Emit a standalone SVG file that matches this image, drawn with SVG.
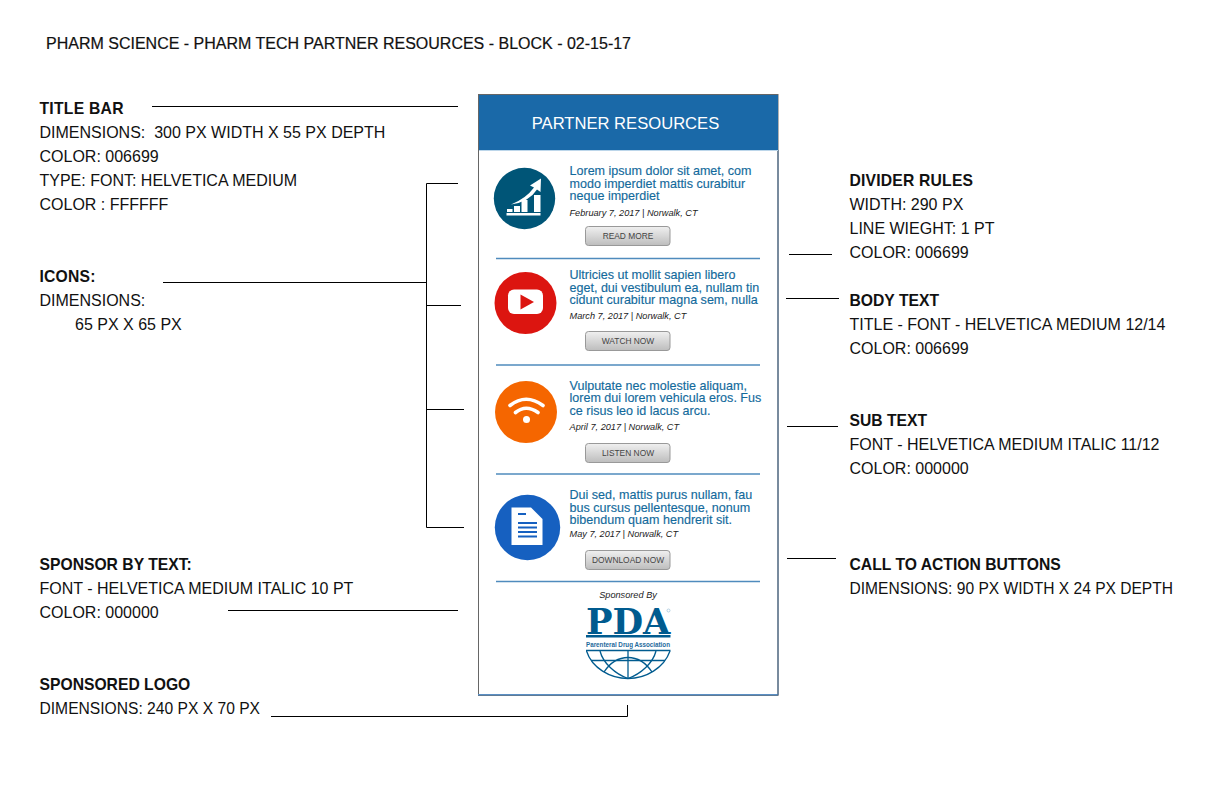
<svg xmlns="http://www.w3.org/2000/svg" width="1224" height="792" viewBox="0 0 1224 792">
<style>
text{font-family:"Liberation Sans",Arial,sans-serif;white-space:pre}
.l{font-size:16px;fill:#111}
.b{font-weight:bold;font-size:15.7px}
.t{font-size:12.55px;fill:#136a9c;stroke:#136a9c;stroke-width:0.15px}
.d{font-size:9.2px;font-style:italic;fill:#222}
.c{font-size:8.4px;fill:#444;text-anchor:middle}
.r{fill:none;stroke:#4f8bbd;stroke-width:1.5}
.btn{fill:url(#g);stroke:#999;stroke-width:1}
.con{fill:none;stroke:#000;stroke-width:1}
</style>
<defs><linearGradient id="g" x1="0" y1="0" x2="0" y2="1"><stop offset="0" stop-color="#f0f0f0"/><stop offset="1" stop-color="#bdbdbd"/></linearGradient></defs>
<rect width="1224" height="792" fill="#fff"/>
<text id="heading" x="46" y="48.500" style="font-size:16px;fill:#111;stroke:#111;stroke-width:0.2px">PHARM SCIENCE - PHARM TECH PARTNER RESOURCES - BLOCK - 02-15-17</text>
<g id="connectors" class="con">
<path d="M152 106.500H458"/>
<path d="M163 282.500H426"/>
<path d="M458 183.500H426.500V527.500H464"/>
<path d="M426 305.500H461"/>
<path d="M426 409.500H464"/>
<path d="M228 610.500H458"/>
<path d="M271 716.500H627.500V705"/>
<path d="M789 254.500H832"/>
<path d="M786 298.500H839"/>
<path d="M787 426.500H838"/>
<path d="M787 558.500H836"/>
</g>
<g id="note-title-bar"><text class="l b" x="39.500" y="113.500" textLength="84">TITLE BAR</text><text class="l" x="39.500" y="137.500">DIMENSIONS:  300 PX WIDTH X 55 PX DEPTH</text><text class="l" x="39.500" y="161.500">COLOR: 006699</text><text class="l" x="39.500" y="185.500">TYPE: FONT: HELVETICA MEDIUM</text><text class="l" x="39.500" y="209.500">COLOR : FFFFFF</text></g>
<g id="note-icons"><text class="l b" x="39.500" y="281.500" textLength="56">ICONS:</text><text class="l" x="39.500" y="305.500">DIMENSIONS:</text><text class="l" x="75" y="329.500">65 PX X 65 PX</text></g>
<g id="note-sponsor"><text class="l b" x="39.500" y="569.500">SPONSOR BY TEXT:</text><text class="l" x="39.500" y="593.500">FONT - HELVETICA MEDIUM ITALIC 10 PT</text><text class="l" x="39.500" y="617.500">COLOR: 000000</text></g>
<g id="note-logo"><text class="l b" x="39.500" y="689.500">SPONSORED LOGO</text><text class="l" x="39.500" y="713.500" textLength="220.500" lengthAdjust="spacingAndGlyphs">DIMENSIONS: 240 PX X 70 PX</text></g>
<g id="note-divider"><text class="l b" x="849.500" y="185.500" textLength="123.500">DIVIDER RULES</text><text class="l" x="849.500" y="209.500">WIDTH: 290 PX</text><text class="l" x="849.500" y="233.500">LINE WIEGHT: 1 PT</text><text class="l" x="849.500" y="257.500">COLOR: 006699</text></g>
<g id="note-body"><text class="l b" x="849.500" y="305.500">BODY TEXT</text><text class="l" x="849.500" y="329.500">TITLE - FONT - HELVETICA MEDIUM 12/14</text><text class="l" x="849.500" y="353.500">COLOR: 006699</text></g>
<g id="note-sub"><text class="l b" x="849.500" y="425.500">SUB TEXT</text><text class="l" x="849.500" y="449.500">FONT - HELVETICA MEDIUM ITALIC 11/12</text><text class="l" x="849.500" y="473.500">COLOR: 000000</text></g>
<g id="note-cta"><text class="l b" x="849.500" y="569.500">CALL TO ACTION BUTTONS</text><text class="l" x="849.500" y="593.500" textLength="323.500" lengthAdjust="spacingAndGlyphs">DIMENSIONS: 90 PX WIDTH X 24 PX DEPTH</text></g>
<g id="panel">
<rect x="478.500" y="94.500" width="299.500" height="601" fill="#fff" stroke="#666" stroke-width="1"/>
<path d="M478 694.700H778" stroke="#5b8fc4" stroke-width="1.500" fill="none"/>
<path d="M778 150V695" stroke="#3f6388" stroke-width="1" fill="none"/>
</g>
<g id="title-bar">
<rect x="479" y="95" width="299" height="55" fill="#1a69a8"/>
<path d="M479 150.500H778" stroke="#bcd6ea" stroke-width="1"/>
<text x="625.500" y="128.500" text-anchor="middle" fill="#fff" style="font-size:16.600px">PARTNER RESOURCES</text>
</g>
<g id="dividers" class="r"><path d="M496 258.500H760"/><path d="M496 365H760"/><path d="M496 474H760"/><path d="M496 581.500H760"/></g>
<g id="item-1">
<circle cx="524.500" cy="198.500" r="30.700" fill="#005577"/>
<g fill="#fff"><rect x="506.500" y="213" width="34" height="2.500"/><rect x="507" y="209" width="5.500" height="3"/><rect x="514" y="206" width="6" height="6"/><rect x="526.500" y="200" width="6" height="12" transform="translate(-5 0)"/><rect x="534" y="195" width="6.500" height="17"/></g>
<path d="M511 204.500Q526 198.500 534 187.500L530 185.500L541 178.500L540.500 192L537 189.500Q529 202 511 204.500Z" fill="#fff"/>
<text class="t" x="569.500" y="175">Lorem ipsum dolor sit amet, com</text>
<text class="t" x="569.500" y="187.500">modo imperdiet mattis curabitur</text>
<text class="t" x="569.500" y="200">neque imperdiet</text>
<text class="d" x="569.500" y="216">February 7, 2017 | Norwalk, CT</text>
<rect class="btn" x="585.500" y="226.500" width="84.500" height="19" rx="3"/>
<text class="c" x="628" y="239">READ MORE</text>
</g>
<g id="item-2">
<circle cx="525.500" cy="303" r="31" fill="#dc1510"/>
<rect x="508" y="289.500" width="35" height="24.500" rx="6" fill="#fff"/>
<path d="M520.500 294.500L534 302L520.500 309.500Z" fill="#dc1510"/>
<text class="t" x="569.500" y="279">Ultricies ut mollit sapien libero</text>
<text class="t" x="569.500" y="291.500">eget, dui vestibulum ea, nullam tin</text>
<text class="t" x="569.500" y="304">cidunt curabitur magna sem, nulla</text>
<text class="d" x="569.500" y="318.500">March 7, 2017 | Norwalk, CT</text>
<rect class="btn" x="585.500" y="331.500" width="84.500" height="19" rx="3"/>
<text class="c" x="628" y="344">WATCH NOW</text>
</g>
<g id="item-3">
<circle cx="526" cy="412" r="31" fill="#f56600"/>
<path d="M510 405.500Q526 393 543 405.500M515.500 412.500Q526 404 538 412.500" fill="none" stroke="#fff" stroke-width="3.600" stroke-linecap="round"/>
<circle cx="526.500" cy="419.500" r="3.500" fill="#fff"/>
<text class="t" x="569.500" y="389.500">Vulputate nec molestie aliquam,</text>
<text class="t" x="569.500" y="402">lorem dui lorem vehicula eros. Fus</text>
<text class="t" x="569.500" y="414.500">ce risus leo id lacus arcu.</text>
<text class="d" x="569.500" y="430">April 7, 2017 | Norwalk, CT</text>
<rect class="btn" x="585.500" y="443.500" width="84.500" height="19" rx="3"/>
<text class="c" x="628" y="455.500">LISTEN NOW</text>
</g>
<g id="item-4">
<circle cx="527.500" cy="527.500" r="32.700" fill="#1660c0"/>
<path d="M511.500 507.500H531L542.500 519V545H511.500Z" fill="#fff"/>
<path d="M518 514H526M518 523H537M518 527.500H537M518 532H537M518 536.500H537" stroke="#1660c0" stroke-width="1.800" fill="none"/>
<text class="t" x="569.500" y="499">Dui sed, mattis purus nullam, fau</text>
<text class="t" x="569.500" y="511.500">bus cursus pellentesque, nonum</text>
<text class="t" x="569.500" y="524">bibendum quam hendrerit sit.</text>
<text class="d" x="569.500" y="537">May 7, 2017 | Norwalk, CT</text>
<rect class="btn" x="585.500" y="550.500" width="84.500" height="19" rx="3"/>
<text class="c" x="628" y="563">DOWNLOAD NOW</text>
</g>
<g id="sponsor">
<text x="628" y="597.500" text-anchor="middle" style="font-size:9.200px;font-style:italic;fill:#222">Sponsored By</text>
<text x="586" y="634" textLength="84.500" lengthAdjust="spacingAndGlyphs" style="font-family:'DejaVu Serif',serif;font-weight:bold;font-size:35.500px;fill:#005b8f">PDA</text>
<circle cx="668.500" cy="610.500" r="1.500" fill="none" stroke="#9cc0d8" stroke-width="0.700"/>
<rect x="586" y="635" width="84.500" height="2.500" fill="#005b8f"/>
<text x="628" y="646.500" text-anchor="middle" textLength="84" lengthAdjust="spacingAndGlyphs" style="font-size:6.500px;font-weight:bold;fill:#1e6a9c">Parenteral Drug Association</text>
<g fill="none" stroke="#005b8f" stroke-width="1.300">
<path d="M586 650.500H670.500"/>
<path d="M586.500 651C592 668 610 678.500 628 678.500C646 678.500 664 668 670 651"/>
<path d="M591 660.500H665"/>
<path d="M628 650.500V678.500"/>
<path d="M600 651C603 663 615 674 628 678.500C641 674 653 663 656 651"/>
<path d="M604 672C612 660 620 657.500 628 657.500C636 657.500 644 660 652 672"/>
</g>
</g>
</svg>
